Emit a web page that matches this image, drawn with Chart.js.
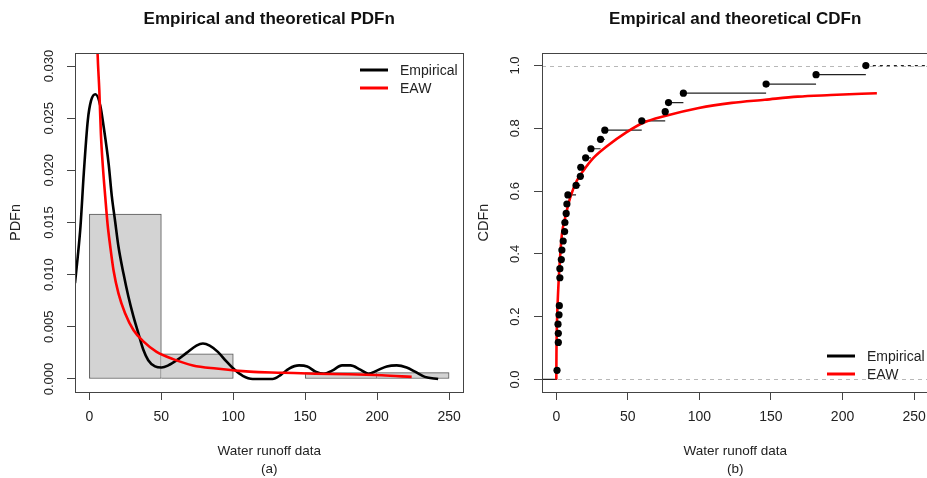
<!DOCTYPE html>
<html>
<head>
<meta charset="utf-8">
<title>Empirical and theoretical PDFn / CDFn</title>
<script src="https://cdn.jsdelivr.net/npm/chart.js@4.4.1/dist/chart.umd.min.js"></script>
<style>
    html, body { margin: 0; padding: 0; background: #fff; overflow: hidden; }
    body { width: 927px; height: 478px; position: relative; }
    #pdfWrap { position: absolute; left: 0; top: 0; width: 470px; height: 478px; }
    #cdfWrap { position: absolute; left: 470px; top: 0; width: 465px; height: 478px; }
</style>
</head>
<body>
<div id="pdfWrap"><canvas id="pdfChart" width="470" height="478"></canvas></div>
<div id="cdfWrap"><canvas id="cdfChart" width="465" height="478"></canvas></div>
<script>
// Water runoff data - empirical vs fitted EAW distribution

// Tick labels
const xTicks = [0, 50, 100, 150, 200, 250];
const pdfTicks = [0, 0.005, 0.010, 0.015, 0.020, 0.025, 0.030];
const cdfTicks = [0, 0.2, 0.4, 0.6, 0.8, 1.0];

// Histogram (density scale)
const binEdges = [0, 50, 100, 150, 200, 250];
const binDensity = [0.0158, 0.0024, 0, 0.0006, 0.0006];

// Empirical kernel density
const kdeX = [-10, -8.1, -6.2, -3.9, -1.1, 1.2, 4.2, 7.6, 9.9, 13.4, 15.6, 17.9, 20.2, 23.7, 27.1, 30.6,
    34.0, 37.5, 40.9, 45.6, 50.2, 54.8, 60.8, 67.5, 74.4, 78.9, 83.6, 89.3, 95.1, 100.8, 106.6, 113.5,
    127.3, 133.1, 138.8, 145.7, 151.4, 157.2, 163.0, 168.7, 175.6, 181.4, 188.3, 194.0, 199.8, 206.7,
    213.6, 220.5, 226.3, 233.2, 242.4];
const kdeY = [0.0092, 0.0117, 0.0146, 0.0197, 0.0248, 0.0267, 0.0273, 0.0262, 0.0242, 0.0206, 0.0175,
    0.0151, 0.0127, 0.0101, 0.0079, 0.0060, 0.0044, 0.0028, 0.0018, 0.0012, 0.0011, 0.0013, 0.0018,
    0.0025, 0.0032, 0.0034, 0.0032, 0.0026, 0.0017, 0.0009, 0.0003, 0.0000, 0.0000, 0.0004, 0.0010,
    0.0013, 0.0012, 0.0007, 0.0005, 0.0008, 0.0013, 0.0013, 0.0009, 0.0005, 0.0008, 0.0012, 0.0013,
    0.0011, 0.0007, 0.0002, 0.0000];

// Fitted EAW density
const eawPdfX = [5.2, 5.7, 6.9, 8.0, 9.4, 11.0, 12.6, 14.5, 16.8, 20.2, 24.8, 30.6, 37.5, 46.7, 58.2,
    72.0, 88.2, 111.3, 134.3, 157.2, 180.3, 203.3, 224.0];
const eawPdfY = [0.0340, 0.0312, 0.0277, 0.0235, 0.0203, 0.0175, 0.0149, 0.0127, 0.0104, 0.0082,
    0.0063, 0.0047, 0.0036, 0.0026, 0.0019, 0.0013, 0.0010, 0.0007, 0.0006, 0.0005, 0.00045, 0.00035,
    0.0002];

// Empirical CDF (jump points)
const ecdfX = [0.5, 1.4, 1.4, 1.2, 1.9, 2.1, 2.5, 2.5, 3.5, 3.9, 4.8, 5.8, 6.0, 6.9, 7.4, 8.1, 13.8,
    16.8, 17.1, 20.5, 24.2, 30.9, 33.9, 59.7, 76.1, 78.4, 88.8, 146.6, 181.5, 216.3];
const ecdfY = [0.029, 0.118, 0.147, 0.176, 0.206, 0.235, 0.324, 0.353, 0.382, 0.412, 0.441, 0.471,
    0.500, 0.529, 0.559, 0.588, 0.618, 0.647, 0.676, 0.706, 0.735, 0.765, 0.794, 0.824, 0.853, 0.882,
    0.912, 0.941, 0.971, 1.000];

// Fitted EAW CDF
const eawCdfX = [0, 0.1, 0.5, 1.4, 2.3, 3.9, 6.2, 9.7, 14.3, 18.9, 25.8, 35.1, 48.9, 60.4, 76.6, 99.6,
    122.6, 145.7, 168.7, 191.8, 224.0];
const eawCdfY = [0, 0.08, 0.185, 0.292, 0.366, 0.462, 0.515, 0.579, 0.633, 0.665, 0.705, 0.742, 0.787,
    0.817, 0.840, 0.865, 0.881, 0.891, 0.901, 0.906, 0.912];

// Dashed reference lines on the CDF panel
const refLines = [0, 1];

const FONT = "'Liberation Sans', Arial, sans-serif";
const axisColor = '#444';
const textColor = '#222';
const xMin = -10, xMax = 260;

const toPoints = (xs, ys) => xs.map((x, i) => ({ x: x, y: ys[i] }));

// Box around the plot region (R style)
const boxPlugin = {
    id: 'plotBox',
    afterDraw(chart) {
        const a = chart.chartArea;
        const ctx = chart.ctx;
        ctx.save();
        ctx.strokeStyle = axisColor;
        ctx.lineWidth = 1;
        const l = Math.round(a.left) + 0.5, t = Math.round(a.top) + 0.5;
        const r = Math.round(a.right) + 0.5, b = Math.round(a.bottom) + 0.5;
        ctx.strokeRect(l, t, r - l, b - t);
        ctx.restore();
    }
};

// Legend drawn inside the plot region
const insetLegend = {
    id: 'insetLegend',
    afterDraw(chart, args, opts) {
        const ctx = chart.ctx;
        ctx.save();
        ctx.font = '14px ' + FONT;
        ctx.textBaseline = 'middle';
        ctx.textAlign = 'left';
        opts.items.forEach((name, i) => {
            const ds = chart.data.datasets.find(d => d.label === name);
            const y = opts.y + i * opts.rowGap;
            ctx.strokeStyle = ds.borderColor;
            ctx.lineWidth = 3;
            ctx.beginPath();
            ctx.moveTo(opts.x, y);
            ctx.lineTo(opts.x + 28, y);
            ctx.stroke();
            ctx.fillStyle = textColor;
            ctx.fillText(name, opts.x + 40, y + 1);
        });
        ctx.restore();
    }
};

// Horizontal dashed lines at given y values
const refLinePlugin = {
    id: 'refLines',
    beforeDatasetsDraw(chart, args, opts) {
        if (!opts.values) return;
        const { ctx, chartArea: a, scales: { y } } = chart;
        ctx.save();
        ctx.strokeStyle = '#b8b8b8';
        ctx.lineWidth = 1;
        ctx.setLineDash([4, 4]);
        opts.values.forEach(v => {
            const py = Math.round(y.getPixelForValue(v)) + 0.5;
            ctx.beginPath();
            ctx.moveTo(a.left, py);
            ctx.lineTo(a.right, py);
            ctx.stroke();
        });
        ctx.restore();
    }
};

function xAxis(caption) {
    return {
        type: 'linear',
        min: xMin,
        max: xMax,
        offset: false,
        afterBuildTicks: s => { s.ticks = xTicks.map(v => ({ value: v })); },
        afterFit: s => { s.height = 86; },
        grid: { drawOnChartArea: false, drawTicks: true, tickLength: 8, color: axisColor, offset: false },
        border: { display: true, color: axisColor },
        ticks: { color: textColor, font: { family: FONT, size: 14 }, padding: 9, maxRotation: 0, autoSkip: false },
        title: {
            display: true,
            text: ['Water runoff data', caption],
            color: textColor,
            font: { family: FONT, size: 13.5, lineHeight: 1.33 },
            padding: { top: 0, bottom: 0 }
        }
    };
}

function yAxis(opts) {
    return {
        type: 'linear',
        min: opts.min,
        max: opts.max,
        afterBuildTicks: s => { s.ticks = opts.ticks.map(v => ({ value: v })); },
        afterFit: s => { s.width = opts.width; },
        grid: { drawOnChartArea: false, drawTicks: true, tickLength: 8, color: axisColor },
        border: { display: true, color: axisColor },
        ticks: {
            color: textColor,
            font: { family: FONT, size: 13 },
            padding: opts.padding,
            minRotation: 90,
            maxRotation: 90,
            crossAlign: 'center',
            callback: v => v.toFixed(opts.digits)
        },
        title: {
            display: true,
            text: opts.title,
            color: textColor,
            font: { family: FONT, size: 14.5 },
            padding: { top: opts.titlePad, bottom: 0 }
        }
    };
}

function titleOpts(text) {
    return {
        display: true,
        text: text,
        fullSize: false,
        color: '#111',
        font: { family: FONT, size: 17, weight: 'bold', lineHeight: 1.2 },
        padding: { top: 9, bottom: 23.6 }
    };
}

// Left panel: histogram + densities
function initPdfChart() {
    const ctx = document.getElementById('pdfChart').getContext('2d');
    const histData = binDensity.map((d, i) => ({ x: (binEdges[i] + binEdges[i + 1]) / 2, y: d }));

    new Chart(ctx, {
        type: 'bar',
        data: {
            datasets: [
                {
                    label: 'Histogram',
                    data: histData,
                    backgroundColor: '#d3d3d3',
                    borderColor: '#555',
                    borderWidth: c => ({
                        top: 1, right: 1, bottom: 1,
                        left: (c.dataIndex === 0 || binDensity[c.dataIndex - 1] < binDensity[c.dataIndex]) ? 1 : 0
                    }),
                    borderSkipped: false,
                    barPercentage: 1,
                    categoryPercentage: 1,
                    order: 3
                },
                {
                    type: 'line',
                    label: 'Empirical',
                    data: toPoints(kdeX, kdeY),
                    borderColor: '#000',
                    borderWidth: 2.6,
                    pointRadius: 0,
                    cubicInterpolationMode: 'monotone',
                    order: 2
                },
                {
                    type: 'line',
                    label: 'EAW',
                    data: toPoints(eawPdfX, eawPdfY),
                    borderColor: '#ff0000',
                    borderWidth: 2.6,
                    pointRadius: 0,
                    cubicInterpolationMode: 'monotone',
                    order: 1
                }
            ]
        },
        options: {
            responsive: false,
            animation: false,
            devicePixelRatio: 1,
            layout: { padding: { left: 0, right: 5, top: 0, bottom: 0 } },
            scales: {
                x: xAxis('(a)'),
                y: yAxis({ min: -0.00125, max: 0.03125, ticks: pdfTicks, width: 75, padding: 1,
                    digits: 3, title: 'PDFn', titlePad: 7 })
            },
            plugins: {
                legend: { display: false },
                tooltip: { enabled: false },
                title: titleOpts('Empirical and theoretical PDFn'),
                insetLegend: { items: ['Empirical', 'EAW'], x: 360, y: 70, rowGap: 18 }
            }
        },
        plugins: [boxPlugin, insetLegend]
    });
}

// Right panel: empirical step function + fitted CDF
function initCdfChart() {
    const ctx = document.getElementById('cdfChart').getContext('2d');

    // horizontal pieces of the step function, broken by gaps
    const steps = [{ x: xMin, y: 0 }, { x: ecdfX[0], y: 0 }, { x: ecdfX[0], y: null }];
    ecdfX.forEach((x, i) => {
        const next = i < ecdfX.length - 1 ? Math.max(ecdfX[i + 1], x) : xMax;
        steps.push({ x: x, y: ecdfY[i] }, { x: next, y: ecdfY[i] }, { x: next, y: null });
    });
    const lastX = ecdfX[ecdfX.length - 1];

    new Chart(ctx, {
        type: 'line',
        data: {
            datasets: [
                {
                    label: 'Empirical',
                    data: toPoints(ecdfX, ecdfY),
                    showLine: false,
                    borderColor: '#000',
                    pointRadius: 3.6,
                    pointBackgroundColor: '#000',
                    pointBorderWidth: 0,
                    order: 1
                },
                {
                    label: 'EAW',
                    data: toPoints(eawCdfX, eawCdfY),
                    borderColor: '#ff0000',
                    borderWidth: 2.6,
                    pointRadius: 0,
                    cubicInterpolationMode: 'monotone',
                    order: 2
                },
                {
                    label: 'steps',
                    data: steps,
                    borderColor: '#222',
                    borderWidth: 1.2,
                    pointRadius: 0,
                    spanGaps: false,
                    segment: { borderDash: c => (c.p0.parsed.x >= lastX ? [3, 4] : undefined) },
                    order: 3
                }
            ]
        },
        options: {
            responsive: false,
            animation: false,
            devicePixelRatio: 1,
            layout: { padding: { left: 0, right: 4, top: 0, bottom: 0 } },
            scales: {
                x: xAxis('(b)'),
                y: yAxis({ min: -0.04, max: 1.04, ticks: cdfTicks, width: 72, padding: 10,
                    digits: 1, title: 'CDFn', titlePad: 5 })
            },
            plugins: {
                legend: { display: false },
                tooltip: { enabled: false },
                title: titleOpts('Empirical and theoretical CDFn'),
                refLines: { values: refLines },
                insetLegend: { items: ['Empirical', 'EAW'], x: 357, y: 356, rowGap: 18 }
            }
        },
        plugins: [boxPlugin, insetLegend, refLinePlugin]
    });
}

initPdfChart();
initCdfChart();
</script>
</body>
</html>
